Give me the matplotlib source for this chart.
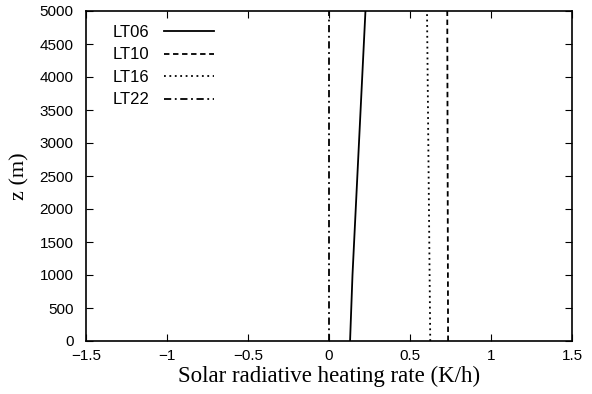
import matplotlib.pyplot as plt
import numpy as np

# heating rate profiles (K/h) at a few heights
z = [0, 1000, 2000, 3000, 4000, 5000]
lt06 = [0.13, 0.145, 0.165, 0.185, 0.205, 0.225]
lt10 = [0.735, 0.734, 0.733, 0.732, 0.731, 0.73]
lt16 = [0.625, 0.621, 0.617, 0.613, 0.609, 0.605]
lt22 = [0.0, 0.0, 0.0, 0.0, 0.0, 0.0]

labels = ["LT06", "LT10", "LT16", "LT22"]
xticks = [-1.5, -1, -0.5, 0, 0.5, 1, 1.5]
xticklabels = ["\u22121.5", "\u22121", "\u22120.5", "0", "0.5", "1", "1.5"]

sans = ["Liberation Sans", "DejaVu Sans"]
serif = ["Liberation Serif", "DejaVu Serif"]

fig = plt.figure(figsize=(5.92, 3.94), dpi=100)
ax = fig.add_axes([86 / 592, 53 / 394, 486 / 592, 330 / 394])

ax.plot(lt06, z, color="black", lw=1.3, ls="-", label=labels[0])
ax.plot(lt10, z, color="black", lw=1.3, ls=(0, (3, 2)), label=labels[1])
ax.plot(lt16, z, color="black", lw=1.3, ls=(0, (1, 2)), label=labels[2])
ax.plot(lt22, z, color="black", lw=1.3, ls=(0, (4, 2, 1, 2)), label=labels[3])

ax.set_xlim(-1.5, 1.5)
ax.set_ylim(0, 5000)
ax.set_xticks(xticks)
ax.set_xticklabels(xticklabels)
ax.set_yticks(np.arange(0, 5001, 500))
ax.tick_params(direction="in", top=True, right=True, labelsize=11, length=5)
ax.tick_params(axis="x", pad=6)
ax.tick_params(axis="y", pad=9)
for lab in ax.get_xticklabels() + ax.get_yticklabels():
    lab.set_family(sans)
for s in ax.spines.values():
    s.set_linewidth(1.2)

ax.set_xlabel("Solar radiative heating rate (K/h)", family=serif, fontsize=16.5, labelpad=2)
ax.set_ylabel("z (m)", family=serif, fontsize=16, labelpad=7)

ax.legend(loc="upper left", frameon=False, markerfirst=False,
          prop={"family": sans, "size": 12},
          handlelength=3.0, handletextpad=0.9, labelspacing=0.45, borderaxespad=0.3,
          bbox_to_anchor=(0.03, 0.993))

fig.savefig("out.png", dpi=100)
